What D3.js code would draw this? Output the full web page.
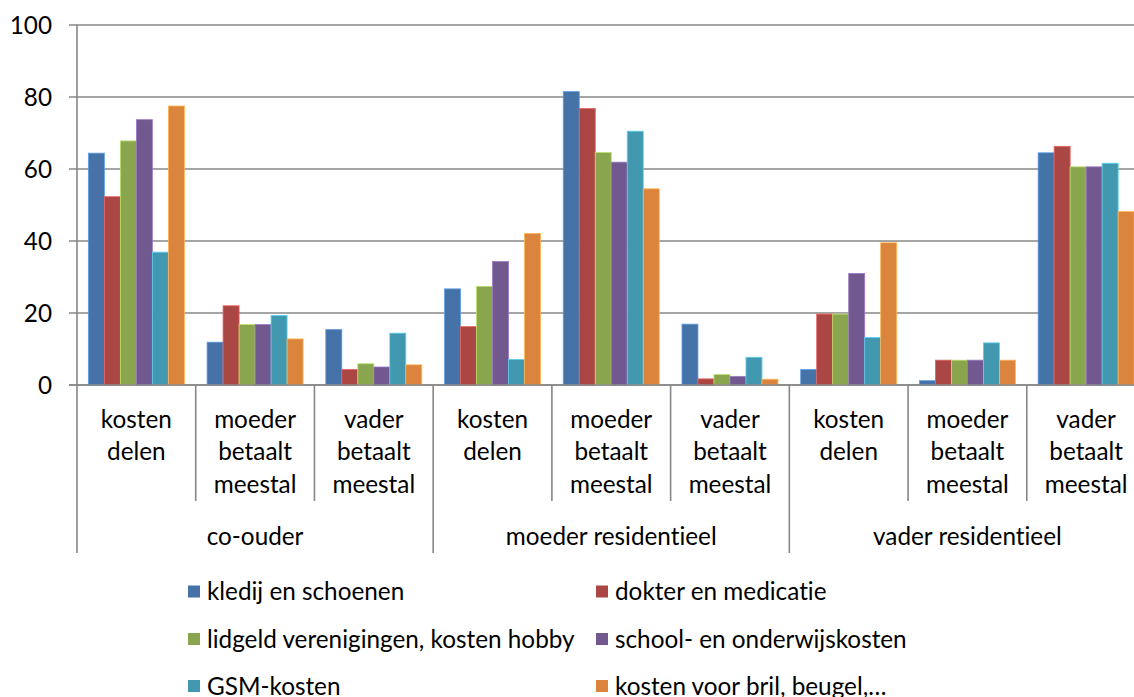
<!DOCTYPE html>
<html>
<head>
<meta charset="utf-8">
<script src="https://cdn.jsdelivr.net/npm/d3@7"></script>
<style>
  html, body { margin: 0; padding: 0; background: #fff; }
  svg { display: block; font-family: Lato, "Open Sans", sans-serif; font-variant-ligatures: none; }
</style>
</head>
<body>
<svg id="chart" width="1134" height="697"></svg>
<script>
// ---- data ----
const groups = ["co-ouder", "moeder residentieel", "vader residentieel"];
const subcategories = [
  ["kosten", "delen"],
  ["moeder", "betaalt", "meestal"],
  ["vader", "betaalt", "meestal"]
];
const seriesNames = [
  "kledij en schoenen",
  "dokter en medicatie",
  "lidgeld verenigingen, kosten hobby",
  "school- en onderwijskosten",
  "GSM-kosten",
  "kosten voor bril, beugel,…"
];
const seriesColors = ["#4572A7", "#AA4643", "#89A54E", "#71588F", "#4198AF", "#DB843D"];
// values per series, 9 categories (3 groups x 3 subcategories)
const kledij   = [64.4, 11.9, 15.4, 26.7, 81.5, 16.9,  4.3,  1.2, 64.5];
const dokter   = [52.3, 22.0,  4.3, 16.2, 76.8,  1.7, 19.7,  6.9, 66.3];
const lidgeld  = [67.8, 16.8,  5.9, 27.4, 64.6,  2.9, 19.7,  6.9, 60.6];
const school   = [73.7, 16.8,  5.0, 34.3, 61.9,  2.4, 31.0,  6.9, 60.6];
const gsm      = [36.9, 19.3, 14.4,  7.1, 70.5,  7.7, 13.2, 11.7, 61.6];
const bril     = [77.5, 12.8,  5.6, 42.1, 54.5,  1.6, 39.5,  6.9, 48.2];
const seriesValues = [kledij, dokter, lidgeld, school, gsm, bril];
const yTicks = [0, 20, 40, 60, 80, 100];

(function () {
// ---- layout ----
const svg = d3.select("#chart");
const pLeft = 77, pRight = 1145.5, pTop = 25, pBottom = 385;
const fontSize = 24.3;
const gridColor = "#878787";

const cats = [];
groups.forEach((g, gi) => subcategories.forEach((s, si) => cats.push({ id: gi * 3 + si, group: g, gi, lines: s })));

const y = d3.scaleLinear().domain([0, 100]).range([pBottom, pTop]);
const x0 = d3.scaleBand().domain(cats.map(c => c.id)).range([pLeft, pRight]).padding(0);
const x1 = d3.scaleBand().domain(d3.range(seriesNames.length)).range([0, x0.bandwidth()])
  .paddingInner(0).paddingOuter(0.71);
const xg = d3.scaleBand().domain(groups).range([pLeft, pRight]).padding(0);

// gridlines
svg.append("g").selectAll("line").data(yTicks).join("line")
  .attr("x1", pLeft - 8).attr("x2", 1134)
  .attr("y1", d => y(d)).attr("y2", d => y(d))
  .attr("stroke", gridColor).attr("stroke-width", 1.6);

// y tick labels
svg.append("g").selectAll("text").data(yTicks).join("text")
  .attr("x", 52).attr("y", d => y(d) + 8.5)
  .attr("text-anchor", "end").attr("font-size", fontSize).attr("fill", "#000")
  .text(d => d);

// bars
const barG = svg.append("g");
cats.forEach(c => {
  const g = barG.append("g").attr("transform", `translate(${x0(c.id)},0)`);
  seriesValues.forEach((vals, si) => {
    const v = vals[c.id];
    g.append("rect")
      .attr("x", x1(si)).attr("width", x1.bandwidth())
      .attr("y", y(v)).attr("height", y(0) - y(v))
      .attr("fill", seriesColors[si])
      .attr("stroke", d3.color(seriesColors[si]).brighter(0.9))
      .attr("stroke-width", 0.8);
  });
});

// axis lines
svg.append("line").attr("x1", pLeft - 8).attr("x2", 1134).attr("y1", pBottom).attr("y2", pBottom)
  .attr("stroke", gridColor).attr("stroke-width", 1.6);
svg.append("line").attr("x1", pLeft).attr("x2", pLeft).attr("y1", pTop).attr("y2", 553)
  .attr("stroke", gridColor).attr("stroke-width", 1.6);

// category separators
const sepG = svg.append("g");
cats.forEach(c => {
  if (c.id === 0) return;
  const xx = x0(c.id);
  const isGroup = c.id % 3 === 0;
  sepG.append("line").attr("x1", xx).attr("x2", xx)
    .attr("y1", pBottom).attr("y2", isGroup ? 553 : 501)
    .attr("stroke", gridColor).attr("stroke-width", 1.6);
});
sepG.append("line").attr("x1", pRight).attr("x2", pRight).attr("y1", pBottom).attr("y2", 553)
  .attr("stroke", gridColor).attr("stroke-width", 1.6);

// category labels
const labG = svg.append("g");
cats.forEach(c => {
  const t = labG.append("text")
    .attr("text-anchor", "middle").attr("font-size", fontSize).attr("fill", "#000");
  c.lines.forEach((ln, i) => {
    t.append("tspan").attr("x", x0(c.id) + x0.bandwidth() / 2).attr("y", 428 + i * 32.3).text(ln);
  });
});
labG.selectAll("text.grp").data(groups).join("text")
  .attr("class", "grp")
  .attr("x", d => xg(d) + xg.bandwidth() / 2).attr("y", 545)
  .attr("text-anchor", "middle").attr("font-size", fontSize).attr("fill", "#000")
  .text(d => d);

// legend
const legX = [188, 596];
const legY = [591.5, 639, 686];
const leg = svg.append("g");
seriesNames.forEach((name, i) => {
  const col = i % 2, row = Math.floor(i / 2);
  const lg = leg.append("g").attr("transform", `translate(${legX[col]},${legY[row]})`);
  lg.append("rect").attr("x", 0).attr("y", -6).attr("width", 12).attr("height", 12)
    .attr("fill", seriesColors[i]);
  lg.append("text").attr("x", 19).attr("y", 8.5)
    .attr("font-size", fontSize).attr("fill", "#000").text(name);
});
})();
</script>
</body>
</html>
